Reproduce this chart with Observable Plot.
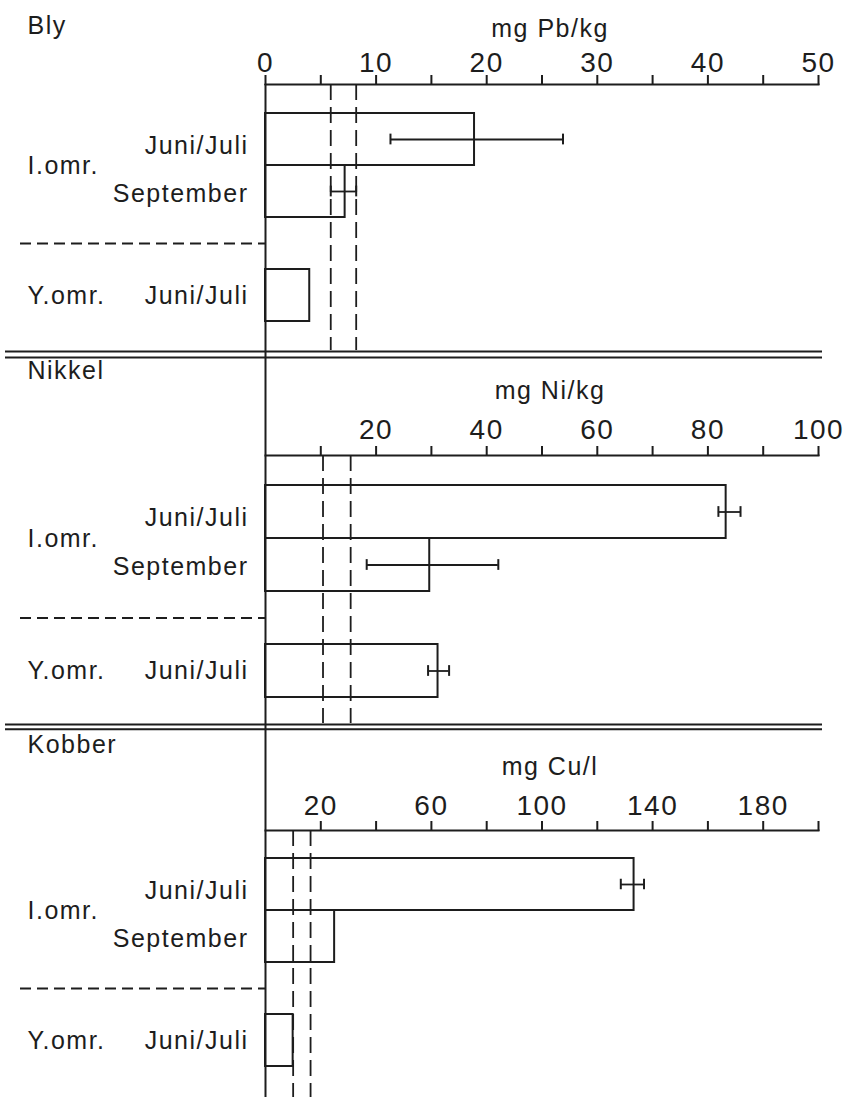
<!DOCTYPE html>
<html>
<head>
<meta charset="utf-8">
<script src="https://cdn.jsdelivr.net/npm/d3@7"></script>
<script src="https://cdn.jsdelivr.net/npm/@observablehq/plot@0.6"></script>
<style>
  html, body { margin: 0; padding: 0; background: #fff; }
  #chart { width: 846px; }
  #chart svg { display: block; overflow: visible; }
  #chart svg g[aria-label^="x-axis"] line,
  #chart svg g[aria-label^="x-axis"] path,
  #chart svg g[aria-label="frame"] rect,
  #chart svg g[aria-label="frame"] line,
  #chart svg g[aria-label="frame"] path { stroke-width: 2px !important; }
  #chart svg g[aria-label^="x-axis"] text { font-size: 28px !important; }
</style>
</head>
<body>
<div id="chart"></div>
<script>
// ---- categories ----
const rowKeys = ["I.omr. Juni/Juli", "I.omr. September", "skille", "Y.omr. Juni/Juli"];
const periodLabels = ["Juni/Juli", "September", "", "Juni/Juli"];
const areaLabels = ["I.omr.", "Y.omr."];
const panelTitles = ["Bly", "Nikkel", "Kobber"];
const unitLabels = ["mg Pb/kg", "mg Ni/kg", "mg Cu/l"];

// ---- Bly (Pb) ----
const pbValues = [18.9, 7.2, null, 4.0];
const pbLow = [11.3, 5.9, null, null];
const pbHigh = [26.9, 8.2, null, null];
const pbRefs = [5.9, 8.2];
const pbDomain = [0, 50];
const pbTicks = [0, 5, 10, 15, 20, 25, 30, 35, 40, 45, 50];
const pbTickLabels = [0, 10, 20, 30, 40, 50];

// ---- Nikkel (Ni) ----
const niValues = [83.3, 29.7, null, 31.2];
const niLow = [81.9, 18.3, null, 29.4];
const niHigh = [85.9, 42.1, null, 33.2];
const niRefs = [10.4, 15.4];
const niDomain = [0, 100];
const niTicks = [10, 20, 30, 40, 50, 60, 70, 80, 90, 100];
const niTickLabels = [20, 40, 60, 80, 100];

// ---- Kobber (Cu) ----
const cuValues = [133.3, 25.0, null, 10.0];
const cuLow = [128.5, null, null, null];
const cuHigh = [136.9, null, null, null];
const cuRefs = [10.0, 16.3];
const cuDomain = [0, 200];
const cuTicks = [20, 40, 60, 80, 100, 120, 140, 160, 180, 200];
const cuTickLabels = [20, 60, 100, 140, 180];

const ink = "#1d1d1d";
const W = 846, ML = 265, MR = 28;

function panel(c) {
  const step = (c.bandBottom - c.bandTop) / rowKeys.length;
  const center = i => c.bandTop + step * (i + 0.5);
  const data = rowKeys.map((row, i) => ({row, period: periodLabels[i], value: c.values[i], low: c.low[i], high: c.high[i]}));
  const bars = data.filter(d => d.value != null);
  const errs = data.filter(d => d.low != null && d.high != null);
  const capInset = (step - 11) / 2;
  const lbl = {fontSize: 25, fill: ink};
  const marks = [
    Plot.barX(bars, {x1: 0, x2: "value", y: "row", fill: "none", stroke: ink, strokeWidth: 2}),
    Plot.ruleX(c.refs, {stroke: ink, strokeWidth: 1.8, strokeDasharray: "16,7"}),
    Plot.ruleY(errs, {x1: "low", x2: "high", y: "row", stroke: ink, strokeWidth: 1.8}),
    Plot.tickX(errs, {x: "low", y: "row", stroke: ink, strokeWidth: 2, inset: capInset}),
    Plot.tickX(errs, {x: "high", y: "row", stroke: ink, strokeWidth: 2, inset: capInset}),
    Plot.ruleX([0], {stroke: ink, strokeWidth: 2, insetTop: c.axisInsetTop, insetBottom: -c.marginBottom}),
    Plot.ruleY([rowKeys[2]], {x1: 0, x2: 0, insetLeft: -245, stroke: ink, strokeWidth: 1.8, strokeDasharray: "11,6"}),
    ...c.lines.map(yy => Plot.ruleY([rowKeys[0]], {dy: yy - center(0), insetLeft: -(ML - 5), insetRight: -4, stroke: ink, strokeWidth: 2})),
    // period labels
    Plot.text([data[0]], {y: "row", text: "period", frameAnchor: "left", textAnchor: "end", dx: -17, dy: 6, ...lbl}),
    Plot.text([data[1]], {y: "row", text: "period", frameAnchor: "left", textAnchor: "end", dx: -17, dy: 2, ...lbl}),
    Plot.text([data[3]], {y: "row", text: "period", frameAnchor: "left", textAnchor: "end", dx: -17, dy: 0, ...lbl}),
    // area labels
    Plot.text([areaLabels[0]], {y: () => rowKeys[0], text: d => d, frameAnchor: "left", textAnchor: "start", dx: 27 - ML, dy: step / 2, ...lbl}),
    Plot.text([areaLabels[1]], {y: () => rowKeys[3], text: d => d, frameAnchor: "left", textAnchor: "start", dx: 27 - ML, dy: 0, ...lbl}),
    // title and unit
    Plot.text([c.title], {text: d => d, frameAnchor: "top-left", textAnchor: "start", lineAnchor: "bottom", dx: 27 - ML, dy: c.titleBaseline - c.marginTop, ...lbl}),
    Plot.text([c.unit], {text: d => d, frameAnchor: "top", lineAnchor: "bottom", dx: 8, dy: c.unitBaseline - c.marginTop, ...lbl})
  ];
  return Plot.plot({
    width: W,
    height: c.height,
    marginTop: c.marginTop,
    marginBottom: c.marginBottom,
    marginLeft: ML,
    marginRight: MR,
    style: "font-family: 'Liberation Sans', Arial, sans-serif; font-size: 28px; letter-spacing: 1.5px; color: #1d1d1d; background: #fff; stroke-width: 2px;",
    x: {
      domain: c.domain,
      axis: "top",
      ticks: c.ticks,
      tickFormat: d => c.tickLabels.includes(d) ? String(d) : "",
      tickSize: 10,
      tickPadding: c.tickPadding,
      line: true,
      label: null
    },
    y: {domain: rowKeys, range: [c.bandTop, c.bandBottom], padding: 0, axis: null},
    marks
  });
}

const chart = document.getElementById("chart");
chart.append(panel({
  title: panelTitles[0], unit: unitLabels[0], domain: pbDomain, ticks: pbTicks, tickLabels: pbTickLabels,
  values: pbValues, low: pbLow, high: pbHigh, refs: pbRefs,
  height: 353, marginTop: 84, marginBottom: 3, bandTop: 112, bandBottom: 321,
  axisInsetTop: 0, lines: [350], titleBaseline: 33, unitBaseline: 36, tickPadding: 3
}));
chart.append(panel({
  title: panelTitles[1], unit: unitLabels[1], domain: niDomain, ticks: niTicks, tickLabels: niTickLabels,
  values: niValues, low: niLow, high: niHigh, refs: niRefs,
  height: 372, marginTop: 102, marginBottom: 2, bandTop: 131, bandBottom: 344,
  axisInsetTop: -102, lines: [3, 370], titleBaseline: 25, unitBaseline: 45, tickPadding: 7
}));
chart.append(panel({
  title: panelTitles[2], unit: unitLabels[2], domain: cuDomain, ticks: cuTicks, tickLabels: cuTickLabels,
  values: cuValues, low: cuLow, high: cuHigh, refs: cuRefs,
  height: 372, marginTop: 105, marginBottom: 0, bandTop: 132, bandBottom: 342,
  axisInsetTop: -105, lines: [3], titleBaseline: 27, unitBaseline: 49, tickPadding: 6
}));
</script>
</body>
</html>
